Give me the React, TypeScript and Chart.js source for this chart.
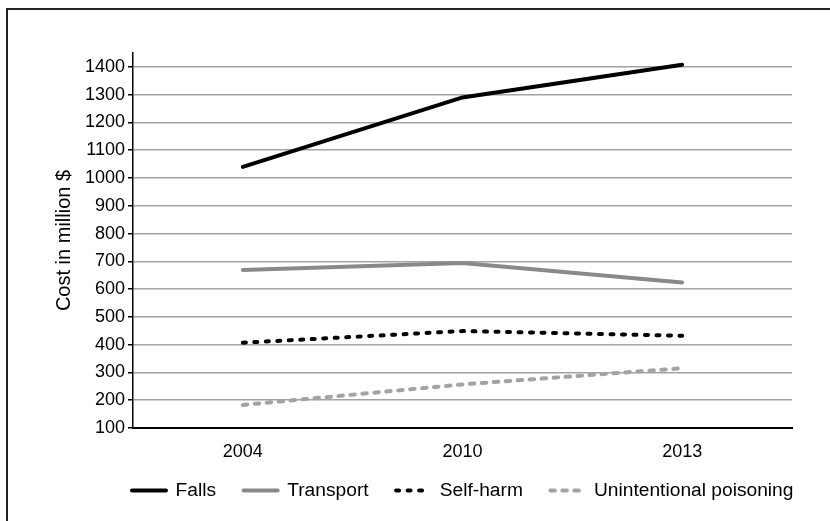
import React, { useEffect, useRef } from "react";
import { Chart, registerables } from "chart.js";

Chart.register(...registerables);

const years = ["2004", "2010", "2013"];
const falls = [1040, 1290, 1408];
const transport = [669, 694, 624];
const selfHarm = [407, 449, 432];
const poisoning = [183, 257, 315];
const yTitle = "Cost in million $";

const FONT = "'Liberation Sans', Arial, sans-serif";

const legendShift = {
  id: "legendShift",
  afterLayout(chart: any) {
    const lg = chart.legend;
    if (!lg) return;
    const dx = 104.5;
    const dy = 453.5 - lg.top;
    lg.left += dx;
    lg.right += dx;
    lg.top += dy;
    lg.bottom += dy;
  },
};

export default function App() {
  const ref = useRef<HTMLCanvasElement | null>(null);

  useEffect(() => {
    document.body.style.margin = "0";
    const ctx = ref.current!.getContext("2d")!;
    const chart = new Chart(ctx, {
      type: "line",
      data: {
        labels: years,
        datasets: [
          {
            label: "Falls",
            data: falls,
            borderColor: "#000000",
            backgroundColor: "#000000",
            borderWidth: 4,
            borderCapStyle: "round",
            pointRadius: 0,
          },
          {
            label: "Transport",
            data: transport,
            borderColor: "#898989",
            backgroundColor: "#898989",
            borderWidth: 4,
            borderCapStyle: "round",
            pointRadius: 0,
          },
          {
            label: "Self-harm",
            data: selfHarm,
            borderColor: "#000000",
            backgroundColor: "#000000",
            borderWidth: 4,
            borderDash: [3, 8.5],
            borderCapStyle: "round",
            pointRadius: 0,
          },
          {
            label: "Unintentional poisoning",
            data: poisoning,
            borderColor: "#a3a3a3",
            backgroundColor: "#a3a3a3",
            borderWidth: 4,
            borderDash: [4.5, 7.5],
            borderCapStyle: "round",
            pointRadius: 0,
          },
        ],
      },
      plugins: [legendShift],
      options: {
        animation: false,
        responsive: false,
        layout: { padding: { left: 0, right: 38, top: 53, bottom: 0 } },
        plugins: {
          tooltip: { enabled: false },
          legend: {
            position: "bottom",
            align: "start",
            labels: {
              usePointStyle: true,
              pointStyle: "line",
              pointStyleWidth: 34,
              boxWidth: 34,
              padding: 27.5,
              color: "#000",
              font: { family: FONT, size: 19.2 },
              generateLabels: (c: any) =>
                c.data.datasets.map((ds: any, i: number) => ({
                  text: ds.label,
                  datasetIndex: i,
                  fillStyle: ds.borderColor,
                  strokeStyle: ds.borderColor,
                  lineWidth: 4,
                  lineDash: ds.borderDash || [],
                  lineCap: "round",
                  pointStyle: "line",
                  fontColor: "#000",
                  hidden: false,
                })),
            },
          },
        },
        scales: {
          x: {
            offset: true,
            afterFit: (s: any) => {
              s.height = 36.3;
            },
            grid: { display: false, drawTicks: false },
            border: { display: true, color: "#000", width: 2 },
            ticks: { color: "#000", padding: 13, font: { family: FONT, size: 18 } },
          },
          y: {
            min: 100,
            max: 1450,
            afterFit: (s: any) => {
              s.width = 133;
            },
            afterBuildTicks: (s: any) => {
              s.ticks = s.ticks.filter((t: any) => t.value % 100 === 0);
            },
            ticks: {
              stepSize: 100,
              includeBounds: false,
              color: "#000",
              padding: 3,
              font: { family: FONT, size: 18 },
              callback: (v: any) => String(v),
            },
            grid: {
              color: "#a3a3a3",
              lineWidth: 1.5,
              tickColor: "#000",
              tickLength: 5,
              tickWidth: 1.5,
            },
            border: { display: true, color: "#000", width: 1.5 },
            title: {
              display: true,
              text: yTitle,
              color: "#000",
              font: { family: FONT, size: 20 },
              padding: { top: 52, bottom: 0 },
            },
          },
        },
      },
    });
    return () => chart.destroy();
  }, []);

  return (
    <div style={{ position: "relative", width: 830, height: 521, overflow: "hidden", background: "#fff" }}>
      <canvas ref={ref} width={830} height={521} style={{ position: "absolute", left: 0, top: 0 }} />
      <div
        style={{
          position: "absolute",
          left: 6,
          top: 8,
          width: 900,
          height: 600,
          border: "2px solid #222",
          pointerEvents: "none",
        }}
      />
    </div>
  );
}
